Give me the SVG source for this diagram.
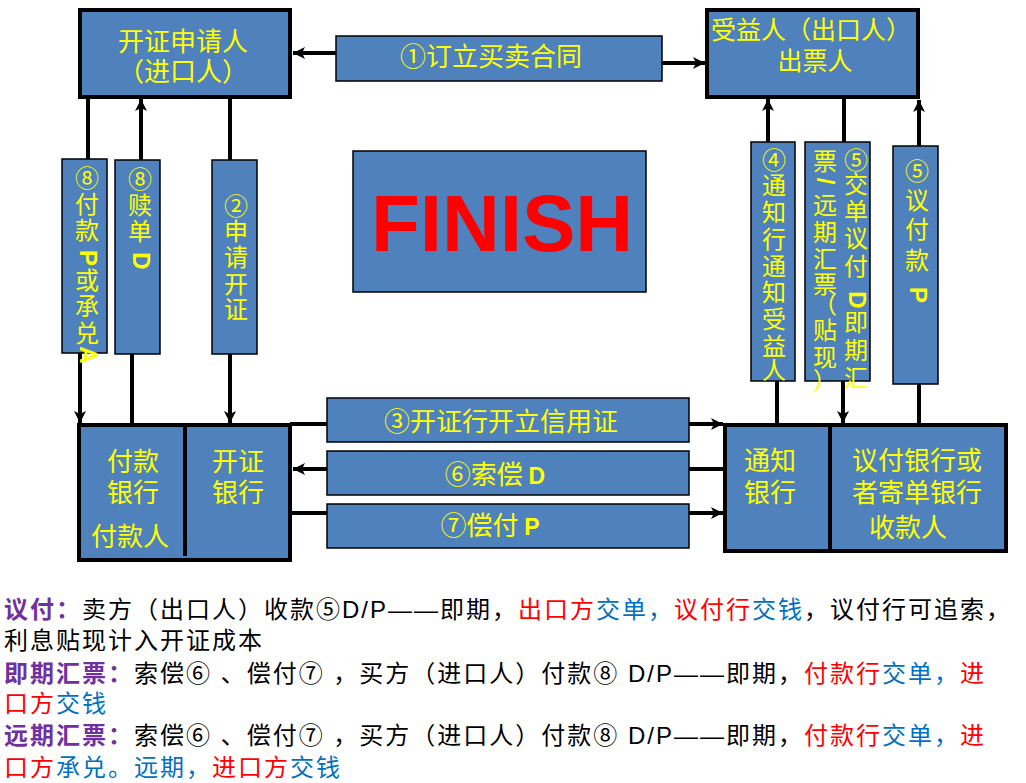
<svg xmlns="http://www.w3.org/2000/svg" width="1026" height="783" viewBox="0 0 1026 783">
<defs>
<style>
.big{fill:#4F81BD;stroke:#000;stroke-width:4}
.lbl{fill:#4F81BD;stroke:#000;stroke-width:1.5}
.div{stroke:#000;stroke-width:4}
.t{font-family:"Noto Sans CJK SC","Liberation Sans",sans-serif;font-size:26px;fill:#FFFF00;text-anchor:middle}
.v{font-family:"Noto Sans CJK SC","Liberation Sans",sans-serif;font-size:24px;fill:#FFFF00;text-anchor:middle}
.lat{font-family:"Liberation Sans",Arial,sans-serif;font-weight:bold;fill:#FFFF00}
.rl{font-family:"Liberation Sans",Arial,sans-serif;font-weight:bold;font-size:24px;fill:#FFFF00;text-anchor:middle;dominant-baseline:central}
.c line{stroke:#000;stroke-width:4;fill:none}
.arr{marker-end:url(#ah)}
.note{font-family:"Liberation Sans","Noto Sans CJK SC",sans-serif;font-size:24px;letter-spacing:2px;fill:#000}
.pu{fill:#7030A0;font-weight:bold}
.r{fill:#FF0000}
.b{fill:#0070C0}
</style>
<marker id="ah" viewBox="0 0 12 12" refX="12" refY="6" markerWidth="12" markerHeight="12" markerUnits="userSpaceOnUse" orient="auto">
<path d="M0,0 L12,6 L0,12 L3,6 z" fill="#000"/>
</marker>
</defs>
<rect width="1026" height="783" fill="#fff"/>

<g id="connectors" class="c">
<line class="arr" x1="336" y1="53" x2="293" y2="53"/>
<line class="arr" x1="662" y1="63" x2="705" y2="63"/>
<line x1="88" y1="99" x2="88" y2="159"/>
<line class="arr" x1="80" y1="353" x2="80" y2="423"/>
<line class="arr" x1="141" y1="160" x2="141" y2="99"/>
<line x1="132" y1="354" x2="132" y2="425"/>
<line x1="230" y1="99" x2="230" y2="160"/>
<line class="arr" x1="230" y1="354" x2="230" y2="423"/>
<line class="arr" x1="768" y1="142" x2="768" y2="99"/>
<line x1="777" y1="381" x2="777" y2="425"/>
<line x1="844" y1="99" x2="844" y2="142"/>
<line class="arr" x1="843" y1="381" x2="843" y2="423"/>
<line class="arr" x1="919" y1="146" x2="919" y2="100"/>
<line x1="919" y1="384" x2="919" y2="426"/>
<line x1="290" y1="424" x2="327" y2="424"/>
<line class="arr" x1="689" y1="424" x2="723" y2="424"/>
<line class="arr" x1="327" y1="469" x2="293" y2="469"/>
<line x1="689" y1="469" x2="725" y2="469"/>
<line x1="290" y1="513" x2="327" y2="513"/>
<line class="arr" x1="689" y1="513" x2="723" y2="513"/>
</g>

<g id="applicant">
<rect class="big" x="80" y="10" width="210" height="87"/>
<text class="t" x="183" y="51">开证申请人</text>
<text class="t" x="183" y="81">（进口人）</text>
</g>

<g id="beneficiary">
<rect class="big" x="707" y="10" width="211" height="87"/>
<text class="t" x="811" y="39" style="font-size:25px">受益人（出口人）</text>
<text class="t" x="815" y="70" style="font-size:25px">出票人</text>
</g>

<g id="step1">
<rect class="lbl" x="336" y="36" width="326" height="45"/>
<text class="t" x="491" y="66">①订立买卖合同</text>
</g>

<g id="finish">
<rect class="lbl" x="353" y="151" width="293" height="141"/>
<text x="502" y="251" text-anchor="middle" style="font-family:'Liberation Sans',Arial,sans-serif;font-weight:bold;font-size:80px;fill:#FF0000">FINISH</text>
</g>

<g id="step8a">
<rect class="lbl" x="62" y="159" width="45" height="194"/>
<text class="v"><tspan x="87" y="187">⑧</tspan><tspan x="87" y="213">付</tspan><tspan x="87" y="239">款</tspan><tspan x="87" y="289">或</tspan><tspan x="87" y="315">承</tspan><tspan x="87" y="342">兑</tspan></text>
<text class="rl" x="88" y="258" transform="rotate(90 88 258)">P</text>
<text class="rl" x="88" y="355" transform="rotate(90 88 355)">A</text>
</g>

<g id="step8b">
<rect class="lbl" x="115" y="160" width="45" height="194"/>
<text class="v"><tspan x="140" y="188">⑧</tspan><tspan x="140" y="214">赎</tspan><tspan x="140" y="240">单</tspan></text>
<text class="rl" x="141" y="261" transform="rotate(90 141 261)">D</text>
</g>

<g id="step2">
<rect class="lbl" x="212" y="160" width="45" height="194"/>
<text class="v"><tspan x="236" y="215">②</tspan><tspan x="236" y="240">申</tspan><tspan x="236" y="266">请</tspan><tspan x="236" y="293">开</tspan><tspan x="236" y="318">证</tspan></text>
</g>

<g id="step4">
<rect class="lbl" x="751" y="142" width="44" height="239"/>
<text class="v"><tspan x="774" y="169">④</tspan><tspan x="774" y="194">通</tspan><tspan x="774" y="221">知</tspan><tspan x="774" y="248">行</tspan><tspan x="774" y="275">通</tspan><tspan x="774" y="301">知</tspan><tspan x="774" y="328">受</tspan><tspan x="774" y="355">益</tspan><tspan x="774" y="379">人</tspan></text>
</g>

<g id="step5a">
<rect class="lbl" x="805" y="142" width="65" height="239"/>
<text class="v"><tspan x="856" y="169">⑤</tspan><tspan x="856" y="193">交</tspan><tspan x="856" y="220">单</tspan><tspan x="856" y="247">议</tspan><tspan x="856" y="275">付</tspan><tspan x="856" y="331">即</tspan><tspan x="856" y="359">期</tspan><tspan x="856" y="387">汇</tspan></text>
<text class="rl" x="857" y="300" transform="rotate(90 857 300)">D</text>
<text class="v"><tspan x="825" y="170">票</tspan><tspan x="825" y="214">远</tspan><tspan x="825" y="241">期</tspan><tspan x="825" y="268">汇</tspan><tspan x="825" y="293">票</tspan><tspan x="825" y="313">（</tspan><tspan x="825" y="339">贴</tspan><tspan x="825" y="366">现</tspan><tspan x="825" y="389">）</tspan></text>
<text class="rl" x="825" y="181" transform="rotate(90 825 181)">/</text>
</g>

<g id="step5b">
<rect class="lbl" x="893" y="146" width="45" height="238"/>
<text class="v"><tspan x="917" y="180">⑤</tspan><tspan x="917" y="209">议</tspan><tspan x="917" y="238">付</tspan><tspan x="917" y="269">款</tspan></text>
<text class="rl" x="918" y="295" transform="rotate(90 918 295)">P</text>
</g>

<g id="issuing-bank">
<rect class="big" x="79" y="425" width="211" height="135"/>
<line class="div" x1="185" y1="425" x2="185" y2="556"/>
<text class="t" x="133" y="471">付款</text>
<text class="t" x="133" y="502">银行</text>
<text class="t" x="130" y="546">付款人</text>
<text class="t" x="238" y="471">开证</text>
<text class="t" x="238" y="502">银行</text>
</g>

<g id="step3">
<rect class="lbl" x="327" y="398" width="362" height="44"/>
<text class="t" x="501" y="431">③开证行开立信用证</text>
</g>

<g id="step6">
<rect class="lbl" x="327" y="451" width="362" height="44"/>
<text class="t" x="495" y="484">⑥索偿 <tspan class="lat" style="font-size:23px">D</tspan></text>
</g>

<g id="step7">
<rect class="lbl" x="327" y="504" width="362" height="44"/>
<text class="t" x="490" y="535">⑦偿付 <tspan class="lat" style="font-size:23px">P</tspan></text>
</g>

<g id="advising-bank">
<rect class="big" x="725" y="425" width="281" height="126"/>
<line class="div" x1="830" y1="425" x2="830" y2="551"/>
<text class="t" x="770" y="470">通知</text>
<text class="t" x="770" y="502">银行</text>
<text class="t" x="917" y="470">议付银行或</text>
<text class="t" x="917" y="502">者寄单银行</text>
<text class="t" x="908" y="537">收款人</text>
</g>

<g id="notes">
<text class="note" x="4" y="618"><tspan class="pu">议付：</tspan>卖方（出口人）收款⑤D/P——即期，<tspan class="r">出口方</tspan><tspan class="b">交单，</tspan><tspan class="r">议付行</tspan><tspan class="b">交钱</tspan>，议付行可追索，</text>
<text class="note" x="4" y="649">利息贴现计入开证成本</text>
<text class="note" x="4" y="682"><tspan class="pu">即期汇票：</tspan>索偿⑥ 、偿付⑦ ，买方（进口人）付款⑧ D/P——即期，<tspan class="r">付款行</tspan><tspan class="b">交单，</tspan><tspan class="r">进</tspan></text>
<text class="note" x="4" y="712"><tspan class="r">口方</tspan><tspan class="b">交钱</tspan></text>
<text class="note" x="4" y="744"><tspan class="pu">远期汇票：</tspan>索偿⑥ 、偿付⑦ ，买方（进口人）付款⑧ D/P——即期，<tspan class="r">付款行</tspan><tspan class="b">交单，</tspan><tspan class="r">进</tspan></text>
<text class="note" x="4" y="776"><tspan class="r">口方</tspan><tspan class="b">承兑。远期，</tspan><tspan class="r">进口方</tspan><tspan class="b">交钱</tspan></text>
</g>
</svg>
